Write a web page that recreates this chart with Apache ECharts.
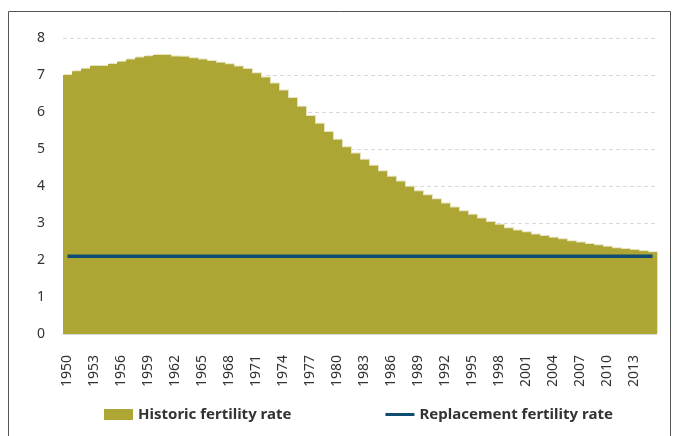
<!DOCTYPE html>
<html>
<head>
<meta charset="utf-8">
<script src="https://cdn.jsdelivr.net/npm/echarts@6/dist/echarts.min.js"></script>
<style>
  html, body { margin: 0; padding: 0; background: #fff; }
  #chart { width: 678px; height: 436px; }
</style>
</head>
<body>
<div id="chart"></div>
<script>
// years 1950 - 2015
const years = [];
for (let y = 1950; y <= 2015; y++) years.push(String(y));

// historic fertility rate
const historicRate = [
  7.00, 7.10, 7.17, 7.24, 7.24, 7.30, 7.36, 7.42, 7.47, 7.51,
  7.54, 7.54, 7.50, 7.49, 7.45, 7.42, 7.38, 7.33, 7.29, 7.23,
  7.16, 7.05, 6.93, 6.77, 6.58, 6.38, 6.14, 5.89, 5.68, 5.46,
  5.25, 5.05, 4.88, 4.71, 4.55, 4.40, 4.25, 4.12, 3.98, 3.86,
  3.75, 3.64, 3.53, 3.42, 3.32, 3.22, 3.12, 3.03, 2.95, 2.86,
  2.80, 2.75, 2.69, 2.65, 2.60, 2.56, 2.51, 2.47, 2.43, 2.40,
  2.36, 2.32, 2.30, 2.27, 2.24, 2.21
];

// replacement level
const replacementRate = years.map(() => 2.1);

const chart = echarts.init(document.getElementById('chart'));

chart.setOption({
  animation: false,
  textStyle: { fontFamily: 'Noto Sans' },
  graphic: [
    {
      type: 'rect',
      shape: { x: 8.5, y: 11.5, width: 662, height: 440 },
      style: { fill: 'none', stroke: '#555', lineWidth: 1 },
      silent: true
    }
  ],
  // 66 bars x 9px
  grid: { left: 63, right: 21, top: 38, bottom: 102 },
  legend: {
    left: 99,
    bottom: 9,
    itemWidth: 29,
    itemHeight: 11,
    itemGap: 94,
    textStyle: { fontSize: 15, fontWeight: 'bold', color: '#333' },
    data: [
      { name: 'Historic fertility rate', icon: 'rect', itemStyle: { shadowBlur: 0, shadowOffsetX: 0, shadowOffsetY: 0 } },
      { name: 'Replacement fertility rate', icon: 'path://M0,0 H29 V3 H0 Z' }
    ]
  },
  xAxis: {
    type: 'category',
    data: years,
    axisTick: { show: false },
    splitLine: { show: false },
    axisLine: { lineStyle: { color: '#d9d9d9', width: 1 } },
    axisLabel: {
      interval: 2,
      rotate: 90,
      margin: 21,
      fontSize: 14,
      color: '#333'
    }
  },
  yAxis: {
    type: 'value',
    min: 0,
    max: 8,
    interval: 1,
    axisLine: { show: false },
    axisTick: { show: false },
    axisLabel: { fontSize: 14, color: '#333', margin: 18 },
    splitLine: { lineStyle: { color: '#d9d9d9', type: [4, 3], width: 1 } }
  },
  series: [
    {
      name: 'Historic fertility rate',
      type: 'bar',
      data: historicRate,
      barCategoryGap: '0%',
      itemStyle: {
        color: '#ada534',
        shadowColor: '#e6e3bd',
        shadowBlur: 0,
        shadowOffsetX: 1,
        shadowOffsetY: -1
      }
    },
    {
      name: 'Replacement fertility rate',
      type: 'line',
      data: replacementRate,
      symbol: 'none',
      lineStyle: { color: '#0f4c72', width: 3.5 },
      itemStyle: { color: '#0f4c72' },
      z: 5
    }
  ]
});
</script>
</body>
</html>
